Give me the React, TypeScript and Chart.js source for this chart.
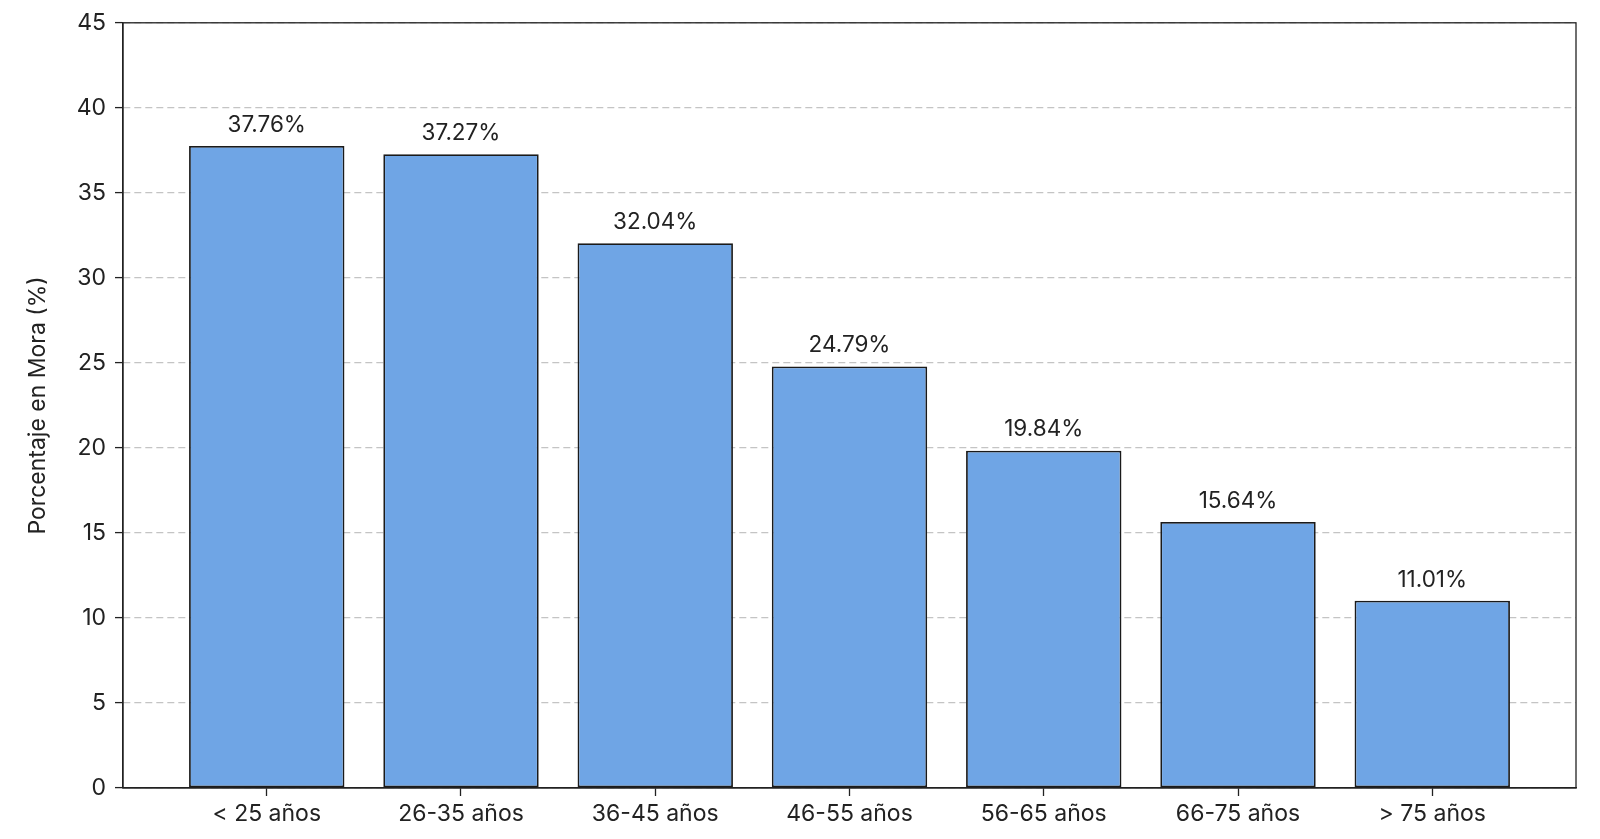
import React, { useEffect, useRef } from "react";
import { Chart, registerables } from "chart.js";

Chart.register(...registerables);

const categories: string[] = [
  "< 25 años",
  "26-35 años",
  "36-45 años",
  "46-55 años",
  "56-65 años",
  "66-75 años",
  "> 75 años",
];
const moraValues: number[] = [37.76, 37.27, 32.04, 24.79, 19.84, 15.64, 11.01];
const yTicks: number[] = [0, 5, 10, 15, 20, 25, 30, 35, 40, 45];

const FONT = "Inter, 'Noto Sans', sans-serif";

export default function App() {
  const ref = useRef<HTMLCanvasElement | null>(null);

  useEffect(() => {
    if (!ref.current) return;

    const frame = {
      id: "frame",
      afterDraw(chart: any) {
        const { ctx, chartArea } = chart;
        ctx.save();
        ctx.setLineDash([]);
        ctx.strokeStyle = "#222";
        ctx.lineWidth = 1.3;
        ctx.strokeRect(
          chartArea.left,
          chartArea.top,
          chartArea.right - chartArea.left,
          chartArea.bottom - chartArea.top
        );
        ctx.restore();
      },
    };

    const valueLabels = {
      id: "valueLabels",
      afterDatasetsDraw(chart: any) {
        const { ctx } = chart;
        const meta = chart.getDatasetMeta(0);
        ctx.save();
        ctx.font = `22.5px ${FONT}`;
        ctx.fillStyle = "#222";
        ctx.textAlign = "center";
        ctx.textBaseline = "middle";
        meta.data.forEach((el: any, i: number) => {
          ctx.fillText(moraValues[i].toFixed(2) + "%", el.x, el.y - 21);
        });
        ctx.restore();
      },
    };

    const chart = new Chart(ref.current, {
      type: "bar",
      data: {
        datasets: [
          {
            data: moraValues.map((v, i) => ({ x: i, y: v })),
            backgroundColor: "#6fa5e5",
            borderColor: "#1a1a1a",
            borderWidth: 1.8,
            borderSkipped: false,
            categoryPercentage: 1,
            barPercentage: 0.8,
          } as any,
        ],
      },
      options: {
        animation: false,
        responsive: false,
        devicePixelRatio: 1,
        layout: { padding: { top: 21, right: 24, left: 0, bottom: 0 } },
        plugins: {
          legend: { display: false },
          tooltip: { enabled: false },
        },
        scales: {
          x: {
            type: "linear",
            min: -0.74,
            max: 6.74,
            offset: false,
            afterBuildTicks: (scale: any) => {
              scale.ticks = categories.map((_, i) => ({ value: i }));
            },
            afterFit: (scale: any) => {
              scale.height = 51;
            },
            ticks: {
              callback: (v: any) => categories[Math.round(Number(v))] ?? "",
              font: { family: FONT, size: 23 },
              color: "#222",
              padding: 4,
              autoSkip: false,
              maxRotation: 0,
            },
            grid: {
              offset: false,
              drawOnChartArea: false,
              drawTicks: true,
              tickLength: 8,
              tickColor: "#222",
              tickWidth: 1.3,
            },
            border: { color: "#222", width: 1.3 },
          },
          y: {
            min: 0,
            max: 45,
            z: 1,
            afterBuildTicks: (scale: any) => {
              scale.ticks = yTicks.map((v) => ({ value: v }));
            },
            afterFit: (scale: any) => {
              scale.width = 123;
            },
            ticks: {
              font: { family: FONT, size: 23 },
              color: "#222",
              padding: 9,
            },
            grid: {
              color: "#c4c4c4",
              lineWidth: 1.2,
              tickLength: 8,
              tickColor: "#222",
              tickWidth: 1.3,
              tickBorderDash: [],
            } as any,
            border: { color: "#222", width: 1.3, dash: [7, 4] },
            title: {
              display: true,
              text: "Porcentaje en Mora (%)",
              font: { family: FONT, size: 23 },
              color: "#222",
              padding: { top: 24, bottom: 0 },
            },
          },
        },
      } as any,
      plugins: [valueLabels, frame],
    });

    return () => chart.destroy();
  }, []);

  return (
    <div style={{ position: "absolute", left: 0, top: 0, width: 1600, height: 839, background: "#fff" }}>
      <canvas ref={ref} width={1600} height={839} style={{ width: 1600, height: 839, display: "block" }} />
    </div>
  );
}
